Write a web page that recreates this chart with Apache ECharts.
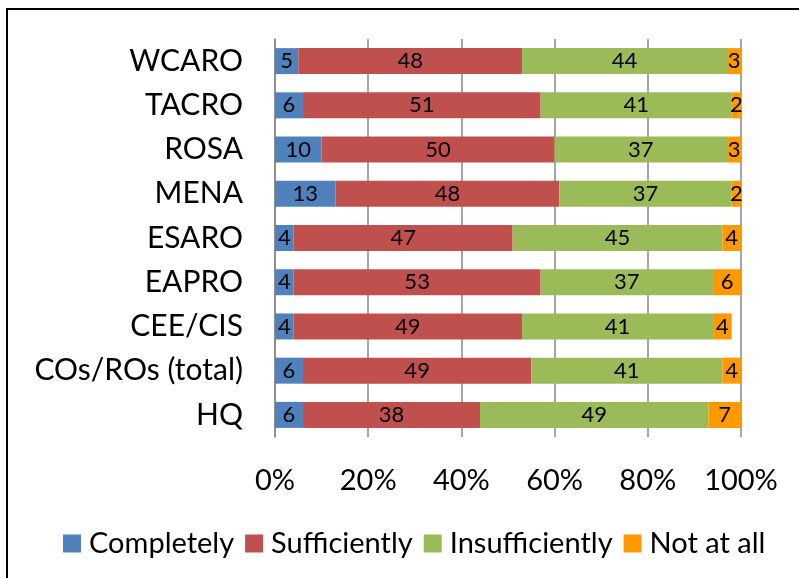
<!DOCTYPE html>
<html>
<head>
<meta charset="utf-8">
<script src="https://cdn.jsdelivr.net/npm/echarts@6/dist/echarts.min.js"></script>
<style>
    html, body { margin: 0; padding: 0; background: #fff; }
    #chart { width: 799px; height: 578px; }
</style>
</head>
<body>
<div id="chart"></div>
<script>
    // categories, top to bottom as in the picture
    var regions = ["WCARO", "TACRO", "ROSA", "MENA", "ESARO", "EAPRO", "CEE/CIS", "COs/ROs (total)", "HQ"];
    var completely = [5, 6, 10, 13, 4, 4, 4, 6, 6];
    var sufficiently = [48, 51, 50, 48, 47, 53, 49, 49, 38];
    var insufficiently = [44, 41, 37, 37, 45, 37, 41, 41, 49];
    var notAtAll = [3, 2, 3, 2, 4, 6, 4, 4, 7];
    var seriesNames = ["Completely", "Sufficiently", "Insufficiently", "Not at all"];
    var seriesColors = ["#4F81BD", "#C0504D", "#9BBB59", "#FF9900"];

    var font = "Lato, 'Open Sans', sans-serif";

    function makeSeries(name, data, color) {
        return {
            name: name,
            type: "bar",
            stack: "all",
            data: data,
            barWidth: 26,
            itemStyle: { color: color },
            label: {
                show: true,
                position: "inside",
                color: "#000",
                fontFamily: font,
                fontSize: 22,
            },
        };
    }

    var myChart = echarts.init(document.getElementById("chart"));
    myChart.setOption({
        animation: false,
        graphic: [
            {
                type: "rect",
                shape: { x: 7, y: 9, width: 830, height: 620 },
                style: { fill: "none", stroke: "#000", lineWidth: 2 },
            },
        ],
        legend: {
            left: 58,
            top: 524,
            itemWidth: 18,
            itemHeight: 18,
            itemGap: 11,
            icon: "rect",
            textStyle: { fontFamily: font, fontSize: 29, color: "#000", padding: [0, 0, 0, 3] },
            data: seriesNames,
        },
        grid: { left: 275, right: 58, top: 39, bottom: 141 },
        xAxis: {
            type: "value",
            min: 0,
            max: 100,
            interval: 20,
            axisLine: { show: false },
            axisTick: { show: false },
            axisLabel: {
                formatter: "{value}%",
                color: "#000",
                fontFamily: font,
                fontSize: 29,
                margin: 29,
            },
            splitLine: { lineStyle: { color: "#878787", width: 1.5 } },
        },
        yAxis: {
            type: "category",
            inverse: true,
            data: regions,
            axisTick: { show: false },
            axisLine: { lineStyle: { color: "#878787", width: 1.5 } },
            axisLabel: {
                color: "#000",
                fontFamily: font,
                fontSize: 30,
                margin: 32,
            },
        },
        series: [
            makeSeries(seriesNames[0], completely, seriesColors[0]),
            makeSeries(seriesNames[1], sufficiently, seriesColors[1]),
            makeSeries(seriesNames[2], insufficiently, seriesColors[2]),
            makeSeries(seriesNames[3], notAtAll, seriesColors[3]),
        ],
    });
</script>
</body>
</html>
